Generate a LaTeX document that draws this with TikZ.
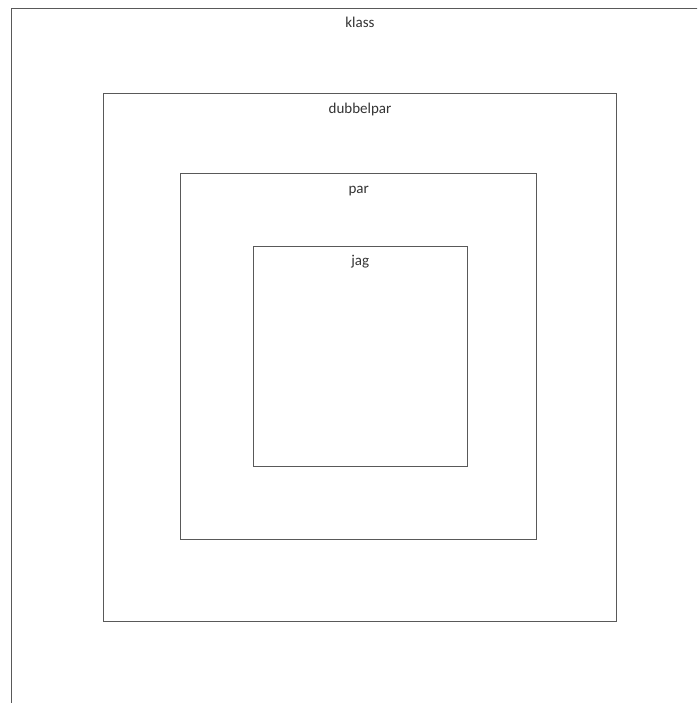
\documentclass[tikz,border=0pt]{standalone}
\usepackage{fontspec}
\setmainfont{Carlito}
\usepackage{xcolor}
\usepackage{tikz}
\usetikzlibrary{positioning}

\begin{document}
\begin{tikzpicture}[
        x=1pt, y=1pt,
        ring/.style={draw=black!65, line width=0.9pt, rectangle, inner sep=0pt},
        boxlabel/.style={anchor=base, inner sep=0pt, text=black!80,
                     font=\fontsize{15}{18}\selectfont}
    ]
        \clip (0,0) rectangle (697,703);
        \node[ring, minimum width=698pt, minimum height=730pt] (klass) at (360,330) {};
        \node[ring, minimum width=513pt, minimum height=528pt] (dubbelpar) at (360,345.2) {};
        \node[ring, minimum width=356pt, minimum height=366pt] (par) at (358.7,346.5) {};
        \node[ring, minimum width=214pt, minimum height=220pt] (jag) at (360.3,346.7) {};

        \node[boxlabel] (klasstext) at ([yshift=-20pt]klass.north) {klass};
        \node[boxlabel] (dubbelpartext) at ([yshift=-20pt]dubbelpar.north) {dubbelpar};
        \node[boxlabel] (partext) at ([yshift=-20pt]par.north) {par};
        \node[boxlabel] (jagtext) at ([yshift=-20pt]jag.north) {jag};
    \end{tikzpicture}
\end{document}
